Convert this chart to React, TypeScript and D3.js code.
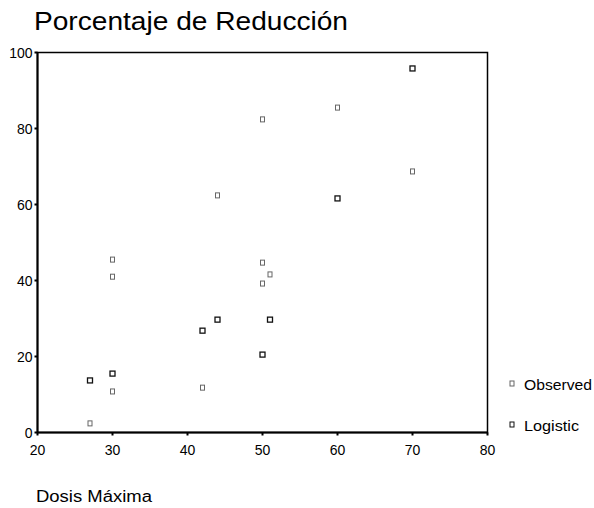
import React from "react";
import * as d3 from "d3";

const xTicks = [20, 30, 40, 50, 60, 70, 80];
const yTicks = [0, 20, 40, 60, 80, 100];

const observedX = [60, 50, 44, 70, 30, 30, 50, 51, 50, 30, 42, 27];
const observedY = [85.5, 82.4, 62.4, 68.7, 45.5, 41, 44.7, 41.6, 39.2, 10.8, 11.8, 2.4];

const logisticX = [70, 60, 51, 44, 42, 50, 30, 27];
const logisticY = [95.8, 61.6, 29.7, 29.7, 26.8, 20.5, 15.5, 13.7];

const legendLabels = ["Observed", "Logistic"];

export default function App() {
  const W = 594, H = 508;
  const x = d3.scaleLinear().domain([20, 80]).range([37.5, 487.5]);
  const y = d3.scaleLinear().domain([0, 100]).range([432.5, 52.5]);
  const font = "Arial, 'Liberation Sans', sans-serif";

  const obs = observedX.map((v, i) => [v, observedY[i]]);
  const logi = logisticX.map((v, i) => [v, logisticY[i]]);

  return (
    <svg width={W} height={H} style={{ position: "absolute", left: 0, top: 0, background: "#fff" }}>
      <rect x={0} y={0} width={W} height={H} fill="#fff" />
      <text x={34} y={30} fontFamily={font} fontSize={25} fill="#000" textLength={314} lengthAdjust="spacingAndGlyphs">Porcentaje de Reducción</text>
      {/* frame */}
      <rect x={x(20)} y={y(100)} width={x(80) - x(20)} height={y(0) - y(100)} fill="none" stroke="#000" strokeWidth={1.5} />
      <line x1={x(20)} x2={x(20)} y1={y(100)} y2={y(0)} stroke="#000" strokeWidth={2} />
      <line x1={x(20)} x2={x(80)} y1={y(0)} y2={y(0)} stroke="#000" strokeWidth={2} />
      {/* y ticks */}
      {yTicks.map((t) => (
        <g key={"y" + t}>
          <line x1={x(20) - 3} x2={x(20)} y1={y(t)} y2={y(t)} stroke="#000" strokeWidth={2} />
          <text x={x(20) - 5} y={y(t) + 5} textAnchor="end" fontFamily={font} fontSize={14} fill="#000">{t}</text>
        </g>
      ))}
      {/* x ticks */}
      {xTicks.map((t) => (
        <g key={"x" + t}>
          <line x1={x(t)} x2={x(t)} y1={y(0)} y2={y(0) + 3} stroke="#000" strokeWidth={2} />
          <text x={x(t)} y={y(0) + 22} textAnchor="middle" fontFamily={font} fontSize={14} fill="#000">{t}</text>
        </g>
      ))}
      <text x={36} y={502} fontFamily={font} fontSize={16} fill="#000" textLength={116} lengthAdjust="spacingAndGlyphs">Dosis Máxima</text>
      {/* observed */}
      {obs.map((d, i) => (
        <rect key={"o" + i} x={x(d[0]) - 2} y={y(d[1]) - 2.5} width={4} height={5} fill="none" stroke="#666" strokeWidth={1} />
      ))}
      {logi.map((d, i) => (
        <rect key={"l" + i} x={x(d[0]) - 2.5} y={y(d[1]) - 2.5} width={5} height={5} fill="none" stroke="#111" strokeWidth={1.3} />
      ))}
      {/* legend */}
      {legendLabels.map((l, i) => (
        <g key={l}>
          <rect x={510} y={381 + i * 41} width={4} height={5} fill="none" stroke={i === 0 ? "#666" : "#111"} strokeWidth={1} />
          <text x={524} y={390 + i * 41} fontFamily={font} fontSize={14} fill="#000" textLength={i === 0 ? 68 : 55} lengthAdjust="spacingAndGlyphs">{l}</text>
        </g>
      ))}
    </svg>
  );
}
